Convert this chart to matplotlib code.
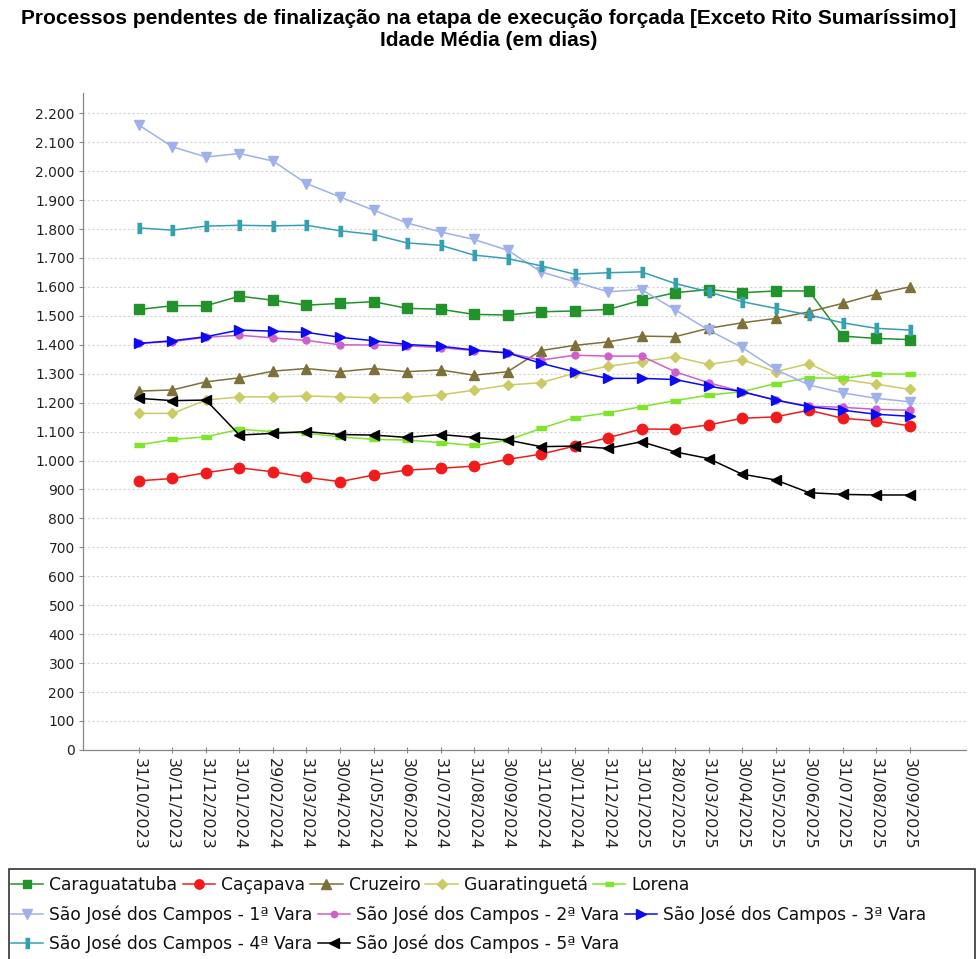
import matplotlib
matplotlib.use("Agg")
import matplotlib.pyplot as plt
from matplotlib.patches import Rectangle


dates = [
    "31/10/2023", "30/11/2023", "31/12/2023", "31/01/2024", "29/02/2024", "31/03/2024",
    "30/04/2024", "31/05/2024", "30/06/2024", "31/07/2024", "31/08/2024", "30/09/2024",
    "31/10/2024", "30/11/2024", "31/12/2024", "31/01/2025", "28/02/2025", "31/03/2025",
    "30/04/2025", "31/05/2025", "30/06/2025", "31/07/2025", "31/08/2025", "30/09/2025",
]

caraguatatuba = [1522, 1535, 1535, 1568, 1554, 1537, 1543, 1549, 1526, 1523, 1505, 1503,
                 1514, 1517, 1522, 1554, 1580, 1591, 1580, 1586, 1586, 1430, 1422, 1418]
cacapava = [930, 938, 958, 975, 961, 942, 927, 950, 967, 973, 981, 1004,
            1022, 1050, 1079, 1109, 1108, 1123, 1146, 1151, 1174, 1146, 1137, 1120]
cruzeiro = [1240, 1244, 1272, 1286, 1309, 1318, 1307, 1318, 1307, 1313, 1295, 1307,
            1380, 1398, 1410, 1430, 1428, 1457, 1476, 1491, 1514, 1543, 1575, 1600]
guaratingueta = [1163, 1163, 1209, 1220, 1220, 1223, 1220, 1217, 1218, 1227, 1243, 1261,
                 1269, 1302, 1326, 1341, 1359, 1332, 1349, 1307, 1335, 1280, 1264, 1246]
lorena = [1054, 1073, 1082, 1108, 1100, 1094, 1082, 1073, 1071, 1062, 1052, 1070,
          1111, 1148, 1165, 1186, 1207, 1226, 1238, 1266, 1286, 1284, 1299, 1299]
sjc_1 = [2159, 2084, 2049, 2061, 2035, 1957, 1911, 1865, 1821, 1790, 1764, 1727,
         1652, 1618, 1583, 1591, 1521, 1451, 1391, 1315, 1261, 1234, 1215, 1203]
sjc_2 = [1405, 1411, 1426, 1433, 1424, 1415, 1400, 1399, 1397, 1390, 1380, 1372,
         1347, 1364, 1361, 1361, 1307, 1269, 1238, 1209, 1188, 1184, 1177, 1174]
sjc_3 = [1405, 1414, 1428, 1451, 1447, 1443, 1426, 1414, 1401, 1395, 1382, 1372,
         1336, 1307, 1284, 1284, 1280, 1257, 1238, 1209, 1186, 1174, 1160, 1153]
sjc_4 = [1804, 1796, 1810, 1813, 1811, 1813, 1794, 1781, 1752, 1744, 1710, 1698,
         1673, 1644, 1649, 1652, 1612, 1583, 1549, 1526, 1503, 1476, 1457, 1451]
sjc_5 = [1215, 1207, 1209, 1088, 1094, 1100, 1090, 1088, 1080, 1090, 1080, 1071,
         1048, 1050, 1042, 1065, 1030, 1007, 953, 933, 889, 883, 881, 881]

names = [
    "Caraguatatuba", "Caçapava", "Cruzeiro", "Guaratinguetá", "Lorena",
    "São José dos Campos - 1ª Vara", "São José dos Campos - 2ª Vara",
    "São José dos Campos - 3ª Vara", "São José dos Campos - 4ª Vara",
    "São José dos Campos - 5ª Vara",
]
series = [caraguatatuba, cacapava, cruzeiro, guaratingueta, lorena,
          sjc_1, sjc_2, sjc_3, sjc_4, sjc_5]

colors = ["#22922a", "#f21b1b", "#7d7039", "#cbcb64", "#7fe528",
          "#9fb1ea", "#cf5fc9", "#0a0af5", "#35a0b2", "#000000"]

hbar = [(-1, -0.5), (1, -0.5), (1, 0.5), (-1, 0.5)]
vbar = [(-0.45, -1), (0.45, -1), (0.45, 1), (-0.45, 1)]
markers = ["s", "o", "^", "D", hbar, "v", "o", ">", vbar, "<"]
msizes = [7, 7.5, 7.5, 5.5, 7, 7.5, 5, 7.5, 7.5, 7.5]


def fmt(v):
    return f"{v:,.0f}".replace(",", ".")


def main():
    fig = plt.figure(figsize=(9.78, 9.59), dpi=100)
    ax = fig.add_axes([0.0849, 0.218, 0.903, 0.685])

    x = list(range(len(dates)))
    handles = []
    for i, (vals, name) in enumerate(zip(series, names)):
        ln, = ax.plot(x, vals, color=colors[i], marker=markers[i], markersize=msizes[i],
                      linewidth=1.1, label=name, zorder=3 + i * 0.1)
        handles.append(ln)

    ax.set_xlim(-1.67, 24.69)
    ax.set_ylim(0, 2270)
    yt = list(range(0, 2201, 100))
    ax.set_yticks(yt)
    ax.set_yticklabels([fmt(v) for v in yt])
    ax.set_xticks(x)
    ax.set_xticklabels(dates, rotation=270)
    ax.tick_params(axis="x", direction="inout", length=5, width=0.8, color="#888888",
                   labelsize=11.5, labelcolor="#222222", pad=3)
    ax.tick_params(axis="y", direction="out", length=3, width=0.8, color="#888888",
                   labelsize=10, labelcolor="#222222", pad=3)
    ax.grid(axis="y", color="#d4d4d4", linestyle=(0, (2, 2)), linewidth=0.8)
    ax.set_axisbelow(True)
    for s in ["top", "right"]:
        ax.spines[s].set_visible(False)
    for s in ["left", "bottom"]:
        ax.spines[s].set_color("#888888")
        ax.spines[s].set_linewidth(0.9)

    fig.text(0.5, 0.991, "Processos pendentes de finalização na etapa de execução forçada "
             "[Exceto Rito Sumaríssimo]\nIdade Média (em dias)",
             ha="center", va="top", fontsize=15, fontweight="bold",
             family="Liberation Sans", linespacing=1.2)

    # legend box, cut off at the bottom like the original
    W, H = 978, 959
    fig.patches.append(Rectangle((9 / W, -0.02), (975 - 9) / W, (H - 869) / H + 0.02,
                                 transform=fig.transFigure, fill=False,
                                 edgecolor="#333333", linewidth=1.2))
    rows = [handles[0:5], handles[5:8], handles[8:10]]
    row_y = [885, 915, 944]
    for hs, yy in zip(rows, row_y):
        leg = fig.legend(handles=hs, labels=[h.get_label() for h in hs],
                         loc="center left", bbox_to_anchor=(11 / W, 1 - yy / H),
                         ncol=len(hs), frameon=False, borderpad=0, borderaxespad=0,
                         handlelength=1.9, handletextpad=0.35, columnspacing=0.3,
                         fontsize=12.3, markerscale=0.9)
        for t in leg.get_texts():
            t.set_color("#111111")

    fig.savefig("out.png", dpi=100)


if __name__ == "__main__":
    main()
